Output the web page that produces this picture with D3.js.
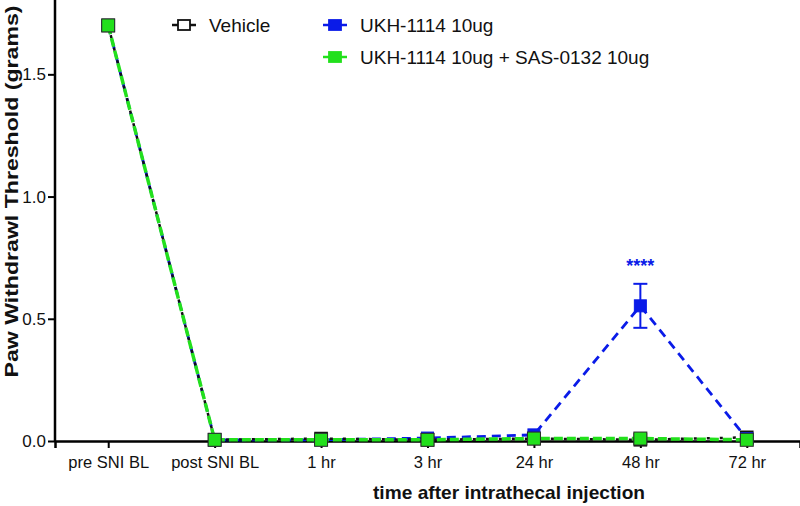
<!DOCTYPE html>
<html><head><meta charset="utf-8">
<script src="https://cdn.jsdelivr.net/npm/d3@7"></script>
<style>body{margin:0;background:#fff}svg{display:block;font-family:"Liberation Sans",Arial,sans-serif}</style>
</head><body><svg id="c" width="800" height="506"></svg>
<script>
const categories = ["pre SNI BL","post SNI BL","1 hr","3 hr","24 hr","48 hr","72 hr"];
const vehicle = [1.7,0.005,0.01,0.005,0.01,0.005,0.015];
const ukh = [1.7,0.005,0.005,0.012,0.025,0.553,0.01];
const ukhErr = [0,0,0,0.004,0.006,0.09,0.006];
const ukhSas = [1.7,0.005,0.005,0.005,0.01,0.01,0.005];
const yTicks = [0,0.5,1.0,1.5];
const seriesNames = ["Vehicle","UKH-1114 10ug","UKH-1114 10ug + SAS-0132 10ug"];

const svg = d3.select("#c");
const x = d3.scalePoint().domain(categories).range([55,800]).padding(0.5);
const y = d3.scaleLinear().domain([0,1.8]).range([441,1]);

// axes
const xa = svg.append("g").attr("transform","translate(0,441)")
  .call(d3.axisBottom(x).tickSize(7).tickPadding(10));
xa.select(".domain").attr("stroke","#000").attr("stroke-width",2.5);
xa.selectAll(".tick line").attr("stroke","#000").attr("stroke-width",2);
xa.selectAll(".tick text").attr("font-size",16.5).attr("fill","#111").attr("dy","0.62em");

const ya = svg.append("g").attr("transform","translate(55,0)")
  .call(d3.axisLeft(y).tickValues(yTicks).tickFormat(d3.format(".1f")).tickSize(7).tickPadding(2));
ya.select(".domain").attr("d","M0,0V441").attr("stroke","#000").attr("stroke-width",2.5);
ya.selectAll(".tick line").attr("stroke","#000").attr("stroke-width",2);
ya.selectAll(".tick text").attr("font-size",17).attr("fill","#111");

svg.append("text").attr("transform","translate(18,191.5) rotate(-90)").attr("text-anchor","middle")
  .attr("font-size",19).attr("font-weight","bold").attr("fill","#111")
  .attr("textLength",372).attr("lengthAdjust","spacingAndGlyphs").text("Paw Withdrawl Threshold (grams)");
svg.append("text").attr("x",509).attr("y",499).attr("text-anchor","middle")
  .attr("font-size",19).attr("font-weight","bold").attr("fill","#111")
  .attr("textLength",272).attr("lengthAdjust","spacingAndGlyphs").text("time after intrathecal injection");

const line = d3.line().x((d,i)=>x(categories[i])).y(d=>y(d));

// UKH blue
svg.append("path").datum(ukh).attr("d",line).attr("fill","none").attr("stroke","#0a1be8").attr("stroke-width",2.8).attr("stroke-dasharray","9,6");
// green base + black dots (vehicle)
svg.append("path").datum(ukhSas).attr("d",line).attr("fill","none").attr("stroke","#22e01c").attr("stroke-width",3.5).attr("stroke-dasharray","9,4");
svg.append("path").datum(vehicle).attr("d",line).attr("fill","none").attr("stroke","#111").attr("stroke-width",2.5).attr("stroke-dasharray","3,10").attr("stroke-dashoffset",-10);

// error bars
const eb = svg.append("g").attr("stroke","#0a1be8").attr("stroke-width",2);
ukh.forEach((v,i)=>{
  if(ukhErr[i]>0.02){
    const cx=x(categories[i]);
    eb.append("line").attr("x1",cx).attr("x2",cx).attr("y1",y(v+ukhErr[i])).attr("y2",y(v-ukhErr[i]));
    eb.append("line").attr("x1",cx-7).attr("x2",cx+7).attr("y1",y(v+ukhErr[i])).attr("y2",y(v+ukhErr[i]));
    eb.append("line").attr("x1",cx-7).attr("x2",cx+7).attr("y1",y(v-ukhErr[i])).attr("y2",y(v-ukhErr[i]));
  }
});

function squares(data, fill, stroke, sw, S){
  svg.append("g").selectAll("rect").data(data).join("rect")
    .attr("x",(d,i)=>x(categories[i])-S/2).attr("y",d=>y(d)-S/2)
    .attr("width",S).attr("height",S).attr("fill",fill).attr("stroke",stroke).attr("stroke-width",sw);
}
squares(vehicle,"#fff","#111",1.6,12);
squares(ukh,"#0a1be8","#0a1be8",1,12);
squares(ukhSas,"#22e01c","#2a2a2a",1,13);

// significance
svg.append("text").attr("x",x("48 hr")).attr("y",272).attr("text-anchor","middle")
  .attr("font-size",18).attr("font-weight","bold").attr("fill","#0a1be8").text("****");

// legend
const lg = svg.append("g");
function legItem(x0,y0,name,color,fill,stroke){
  lg.append("line").attr("x1",x0).attr("x2",x0+24).attr("y1",y0).attr("y2",y0).attr("stroke",color).attr("stroke-width",2.5);
  lg.append("rect").attr("x",x0+6).attr("y",y0-5).attr("width",12).attr("height",10).attr("fill",fill).attr("stroke",stroke).attr("stroke-width",1.8);
  lg.append("text").attr("x",x0+37).attr("y",y0+7).attr("font-size",19).attr("fill","#111").text(name);
}
legItem(172,25,seriesNames[0],"#111","#fff","#111");
legItem(323,25,seriesNames[1],"#0a1be8","#0a1be8","#0a1be8");
legItem(323,57,seriesNames[2],"#22e01c","#22e01c","#22e01c");
</script></body></html>
